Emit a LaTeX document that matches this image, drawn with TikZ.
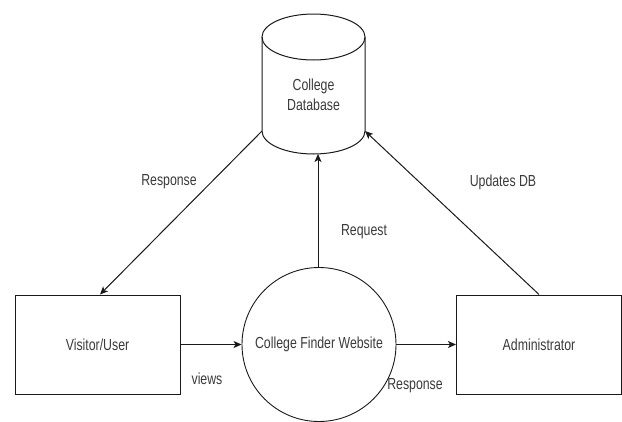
\documentclass[tikz,border=0pt]{standalone}
\usepackage{fontspec}
\usepackage{graphicx}
\setmainfont{Liberation Sans}
\usetikzlibrary{arrows.meta,calc}
\definecolor{txtc}{HTML}{3A3A3A}
\definecolor{linec}{HTML}{1A1A1A}
\newcommand{\lbl}[1]{\scalebox{0.77}[1]{#1}}
\tikzset{
  every node/.style={font=\fontsize{16}{20}\selectfont, text=txtc, inner sep=0pt},
  boxnode/.style={draw=linec, line width=1pt, rectangle, minimum width=165pt, minimum height=99pt},
  webnode/.style={draw=linec, line width=0.9pt, circle, minimum size=154pt},
  conn/.style={draw=linec, line width=1pt, -{Stealth[length=8pt,width=7pt,inset=2pt]}},
  shapeline/.style={draw=linec, line width=1pt},
}
\begin{document}
\begin{tikzpicture}[x=1pt,y=-1pt]
\useasboundingbox (0,0) rectangle (622,421);
% database cylinder
\draw[shapeline] (262,37) -- (262,131) arc[start angle=180, end angle=360, x radius=51.5pt, y radius=23pt] -- (365,37);
\draw[shapeline] (313.5,37) ellipse [x radius=51.5pt, y radius=23pt];
\coordinate (dbL) at (262,131);
\coordinate (dbR) at (365,131);
\coordinate (dbB) at (318,154);
\node[align=center] (db) at (313.5,95) {\lbl{College}\\\lbl{Database}};
% nodes
\node[boxnode] (vis) at (97.5,344.5) {\lbl{Visitor/User}};
\node[boxnode] (adm) at (539,344.5) {\lbl{Administrator}};
\node[webnode] (web) at (319,344.5) {\lbl{College Finder Website}};
% connectors
\draw[conn] (dbL) -- ($(vis.north)+(2.5,0)$);
\draw[conn] (vis.east) -- (web.west);
\draw[conn] (web.east) -- (adm.west);
\draw[conn] (web.north -| dbB) -- (dbB);
\draw[conn] (adm.north) -- (dbR);
% labels
\node (l1) at (169,182) {\lbl{Response}};
\node (l2) at (503,182) {\lbl{Updates DB}};
\node (l3) at (364,232) {\lbl{Request}};
\node (l4) at (207,379) {\lbl{views}};
\node (l5) at (415,386) {\lbl{Response}};
\end{tikzpicture}
\end{document}
